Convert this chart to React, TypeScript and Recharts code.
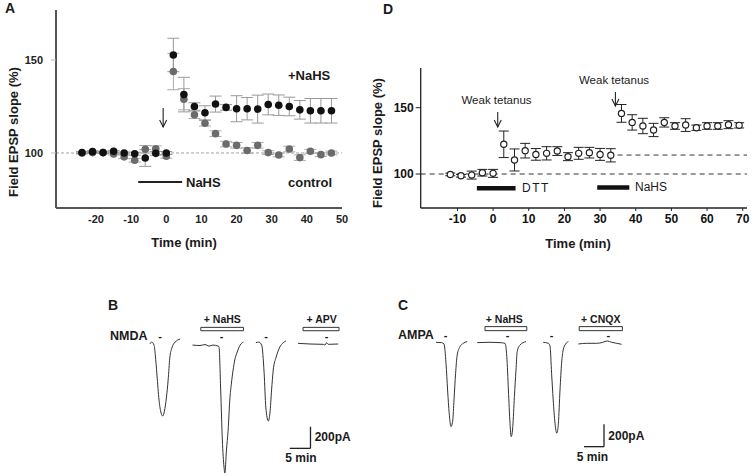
import { ComposedChart, Scatter, ErrorBar, XAxis, YAxis, ReferenceLine, ReferenceArea, LineChart, Line } from 'recharts'

const FONT = '"Liberation Sans", Arial, Helvetica, sans-serif'

// panel A: field EPSP slope (%), +NaHS vs control
const timeA = [-24, -21, -18, -15, -12, -9, -6, -3, 0, 2, 5, 8, 11, 14, 17, 20, 23, 26, 29, 32, 35, 38, 41, 44, 47]
const nahsA = [100.2, 100.7, 100.2, 100.9, 100, 99.6, 97.3, 99.8, 100, 152.7, 131.4, 125, 121.6, 126.3, 124.5, 123.8, 123.8, 123.6, 126.1, 125.7, 125, 123.2, 122.7, 122.7, 122.7]
const nahsErrA = [0.5, 0.5, 0.5, 0.5, 0.5, 0.8, 4.5, 1, 0.8, 9, 9.3, 2, 3.8, 4.3, 1.5, 7, 6, 7.5, 5.6, 5.5, 5, 5, 6.6, 6.6, 6.6]
const controlA = [100, 100.2, 100.2, 99.5, 97.9, 96.1, 102, 102.3, 98.2, 143.8, 128.9, 120.5, 116, 110.4, 104.8, 104.1, 101.3, 104.1, 100.2, 98.9, 102.1, 97.5, 100.9, 99.1, 100]
const controlErrA = [0.5, 0.5, 0.5, 0.5, 1, 1, 2, 1.5, 1, 9.8, 5.7, 2, 1.5, 1.5, 1.5, 1.5, 1.5, 1.5, 1, 1, 1.5, 1.5, 1, 1, 1]
const ticksXA = [-20, -10, 0, 10, 20, 30, 40, 50]

// panel D: DTT then NaHS, weak tetanus
const timeD = [-12, -9, -6, -3, 0, 3, 6, 9, 12, 15, 18, 21, 24, 27, 30, 33, 36, 39, 42, 45, 48, 51, 54, 57, 60, 63, 66, 69]
const slopeD = [99.7, 98.7, 99.2, 101, 100.5, 122.4, 110.6, 117.6, 114.8, 115.6, 117.3, 113.1, 115.6, 116.1, 114.8, 114.1, 145.7, 138.9, 136.2, 133.2, 138.9, 136.2, 136.9, 134.9, 136.2, 136.2, 137.2, 136.7]
const errD = [1, 1, 3, 2.5, 3, 10, 8.3, 5.5, 4.4, 5, 3.3, 3, 4.5, 4, 4.5, 5, 6.7, 5.8, 5.8, 5, 3.5, 2.5, 4.8, 2, 2.5, 2.5, 3, 2]
const ticksXD = [-10, 0, 10, 20, 30, 40, 50, 60, 70]

// panel B: NMDA currents (t in min, i in pA)
const nmdaCtrl = [
  { t: 2.4, i: -9 }, { t: 2.8, i: 9 }, { t: 3.4, i: -19 }, { t: 3.7, i: -111 }, { t: 4.1, i: -296 },
  { t: 4.6, i: -528 }, { t: 5.1, i: -648 }, { t: 5.5, i: -676 }, { t: 5.9, i: -630 }, { t: 6.4, i: -500 },
  { t: 6.8, i: -343 }, { t: 7.2, i: -139 }, { t: 7.7, i: -46 }, { t: 8.5, i: 9 }, { t: 9.7, i: 37 },
]
const nmdaNahs = [
  { t: 12.7, i: -19 }, { t: 14.5, i: -23 }, { t: 15.7, i: -14 }, { t: 16.7, i: -28 }, { t: 17.6, i: -19 },
  { t: 18.9, i: -28 }, { t: 19.1, i: -37 }, { t: 19.5, i: -435 }, { t: 19.9, i: -898 }, { t: 20.3, i: -1148 },
  { t: 20.5, i: -1204 }, { t: 20.9, i: -991 }, { t: 21.3, i: -806 }, { t: 21.7, i: -528 }, { t: 22.1, i: -370 },
  { t: 22.5, i: -250 }, { t: 22.9, i: -157 }, { t: 23.5, i: -83 }, { t: 24.2, i: -19 }, { t: 25, i: 9 },
]
const nmdaWash = [
  { t: 28, i: 3 }, { t: 28.7, i: 9 }, { t: 29.4, i: -19 }, { t: 30, i: -278 }, { t: 30.4, i: -593 },
  { t: 31, i: -722 }, { t: 31.4, i: -648 }, { t: 31.8, i: -435 }, { t: 32.2, i: -250 }, { t: 32.9, i: -130 },
  { t: 33.8, i: -37 }, { t: 35.3, i: 19 },
]
const nmdaApv = [
  { t: 38.2, i: -3 }, { t: 41.1, i: -9 }, { t: 44.3, i: -12 }, { t: 44.7, i: -19 }, { t: 45.1, i: 3 },
  { t: 45.5, i: -12 }, { t: 47.9, i: -9 },
]

// panel C: AMPA currents
const ampaCtrl = [
  { t: 14, i: -3 }, { t: 15.4, i: -6 }, { t: 16, i: -18 }, { t: 16.5, i: -190 }, { t: 16.9, i: -429 },
  { t: 17.3, i: -637 }, { t: 17.75, i: -756 }, { t: 18.2, i: -697 }, { t: 18.5, i: -518 }, { t: 18.9, i: -280 },
  { t: 19.3, i: -116 }, { t: 20, i: -42 }, { t: 20.8, i: -12 }, { t: 21.8, i: 3 },
]
const ampaNahs = [
  { t: 24.3, i: -6 }, { t: 27.5, i: -3 }, { t: 30, i: -6 }, { t: 31.25, i: -12 }, { t: 31.7, i: -131 },
  { t: 32.1, i: -429 }, { t: 32.5, i: -726 }, { t: 32.8, i: -846 }, { t: 33.2, i: -756 }, { t: 33.6, i: -488 },
  { t: 34, i: -250 }, { t: 34.3, i: -87 }, { t: 35, i: -27 }, { t: 36.5, i: 3 },
]
const ampaWash = [
  { t: 40.8, i: -3 }, { t: 42.1, i: -12 }, { t: 42.5, i: -36 }, { t: 42.9, i: -280 }, { t: 43.3, i: -518 },
  { t: 43.75, i: -726 }, { t: 44.2, i: -815 }, { t: 44.6, i: -726 }, { t: 45, i: -429 }, { t: 45.4, i: -190 },
  { t: 45.8, i: -71 }, { t: 46.4, i: -18 }, { t: 47.1, i: 3 },
]
const ampaCnqx = [
  { t: 49.6, i: -18 }, { t: 51.7, i: -12 }, { t: 54.2, i: -12 }, { t: 55.7, i: -3 }, { t: 56.8, i: 9 },
  { t: 57.9, i: -3 }, { t: 59.2, i: -12 }, { t: 60.4, i: -21 },
]

const dataA1 = timeA.map((t, k) => ({ t, v: controlA[k], e: controlErrA[k] }))
const dataA2 = timeA.map((t, k) => ({ t, v: nahsA[k], e: nahsErrA[k] }))
const dataD = timeD.map((t, k) => ({ t, v: slopeD[k], e: errD[k] }))

const Arrow = (p: any) => {
  const x = p.x1
  const top = Math.min(p.y1, p.y2)
  const bot = Math.max(p.y1, p.y2)
  return (
    <g>
      <line x1={x} y1={top} x2={x} y2={bot} stroke="#222" strokeWidth={1.1} />
      <polyline points={`${x - 3.5},${bot - 7} ${x},${bot} ${x + 3.5},${bot - 7}`} fill="none" stroke="#222" strokeWidth={1.1} />
    </g>
  )
}

const T = ({ x, y, children, size = 12, bold = true, anchor = 'start', rotate = false, ls }: any) => (
  <text x={x} y={y} fontSize={size} fontWeight={bold ? 700 : 400} textAnchor={anchor} dominantBaseline="central"
    transform={rotate ? `rotate(-90 ${x} ${y})` : undefined} letterSpacing={ls} fill="#1a1a1a" fontFamily={FONT}>
    {children}
  </text>
)

const tickA = { fill: '#222', fontSize: 11, fontWeight: 700, fontFamily: FONT }
const tickD = { fill: '#111', fontSize: 12, fontWeight: 700, fontFamily: FONT }

function PanelA() {
  return (
    <ComposedChart width={360} height={260} margin={{ top: 10, right: 18, bottom: 22, left: 16 }}>
      <XAxis type="number" dataKey="t" domain={[-31.4, 50]} ticks={ticksXA} allowDataOverflow height={30}
        axisLine={{ stroke: '#555', strokeWidth: 2 }} tickLine={false} tickSize={4} tickMargin={3} tick={tickA} />
      <YAxis type="number" dataKey="v" domain={[70.4, 176.9]} ticks={[100, 150]} allowDataOverflow width={40}
        axisLine={{ stroke: '#555', strokeWidth: 2 }} tickLine={{ stroke: '#bbb' }} tickSize={5} tickMargin={8} tick={tickA} />
      <ReferenceLine y={100} stroke="#888" strokeWidth={0.8} strokeDasharray="3 2" />
      <ReferenceLine segment={[{ x: -8, y: 84.4 }, { x: 4.5, y: 84.4 }]} stroke="#222" strokeWidth={2} />
      <ReferenceLine segment={[{ x: -0.9, y: 124.2 }, { x: -0.9, y: 114 }]} shape={Arrow} />
      <Scatter data={dataA1} dataKey="v" isAnimationActive={false}
        shape={(p: any) => <circle cx={p.cx} cy={p.cy} r={3.8} fill="#6b6b6b" />}>
        <ErrorBar dataKey="e" direction="y" width={6} stroke="#aaa" strokeWidth={1} />
      </Scatter>
      <Scatter data={dataA2} dataKey="v" isAnimationActive={false}
        shape={(p: any) => <circle cx={p.cx} cy={p.cy} r={3.8} fill="#111" />}>
        <ErrorBar dataKey="e" direction="y" width={6} stroke="#999" strokeWidth={1} />
      </Scatter>
    </ComposedChart>
  )
}

function PanelD() {
  return (
    <ComposedChart width={373} height={260} margin={{ top: 68, right: 6, bottom: 22, left: 5.7 }}>
      <XAxis type="number" dataKey="t" domain={[-20.3, 71.2]} ticks={ticksXD} allowDataOverflow height={30}
        axisLine={{ stroke: '#222', strokeWidth: 1.3 }} tickLine={{ stroke: '#222' }} tickSize={3} tickMargin={3} tick={tickD} />
      <YAxis type="number" dataKey="v" domain={[74.4, 179.9]} ticks={[100, 150]} allowDataOverflow width={35}
        axisLine={{ stroke: '#222', strokeWidth: 1.3 }} tickLine={{ stroke: '#222' }} tickSize={5} tickMargin={2} tick={tickD} />
      <ReferenceLine y={100} stroke="#333" strokeWidth={1} strokeDasharray="5 4" />
      <ReferenceLine segment={[{ x: 34.9, y: 114.3 }, { x: 71.2, y: 114.3 }]} stroke="#333" strokeWidth={1} strokeDasharray="5 4" />
      <ReferenceLine segment={[{ x: -4.55, y: 89.2 }, { x: 6.3, y: 89.2 }]} stroke="#111" strokeWidth={4.5} />
      <ReferenceLine segment={[{ x: 29.2, y: 89.8 }, { x: 38.2, y: 89.8 }]} stroke="#111" strokeWidth={4.5} />
      <ReferenceLine segment={[{ x: 1.3, y: 146.8 }, { x: 1.3, y: 135.4 }]} shape={Arrow} />
      <ReferenceLine segment={[{ x: 34.3, y: 161.8 }, { x: 34.3, y: 151.3 }]} shape={Arrow} />
      <Scatter data={dataD} dataKey="v" isAnimationActive={false}
        shape={(p: any) => <circle cx={p.cx} cy={p.cy} r={3.1} fill="#fff" stroke="#222" strokeWidth={1.2} />}>
        <ErrorBar dataKey="e" direction="y" width={5} stroke="#222" strokeWidth={1} />
      </Scatter>
    </ComposedChart>
  )
}

function Traces({ width, xDomain, yDomain, traces, boxes, bar }: any) {
  return (
    <LineChart width={width} height={186} margin={{ top: 0, right: 0, bottom: 0, left: 0 }}>
      <XAxis type="number" dataKey="t" domain={xDomain} allowDataOverflow hide />
      <YAxis type="number" dataKey="i" domain={yDomain} allowDataOverflow hide />
      {boxes.map((b: number[], k: number) => (
        <ReferenceArea key={k} x1={b[0]} x2={b[1]} y1={b[2]} y2={b[3]} fill="#fff" fillOpacity={1} stroke="#333" strokeWidth={1} />
      ))}
      {traces.map((d: any[], k: number) => (
        <Line key={k} data={d} dataKey="i" type="monotone" stroke="#333" strokeWidth={1} dot={false} isAnimationActive={false} />
      ))}
      <ReferenceLine segment={[{ x: bar.t, y: bar.i }, { x: bar.t, y: bar.i - 200 }]} stroke="#222" strokeWidth={1.3} />
      <ReferenceLine segment={[{ x: bar.t - 5, y: bar.i - 200 }, { x: bar.t, y: bar.i - 200 }]} stroke="#222" strokeWidth={1.3} />
    </LineChart>
  )
}

export default function App() {
  return (
    <div style={{ position: 'absolute', left: 0, top: 0, width: 753, height: 476, background: '#fff', overflow: 'hidden' }}>
      <div style={{ position: 'absolute', left: 0, top: 0 }}><PanelA /></div>
      <div style={{ position: 'absolute', left: 380, top: 0 }}><PanelD /></div>
      <div style={{ position: 'absolute', left: 140, top: 290 }}>
        <Traces width={240} xDomain={[0, 58]} yDomain={[-1231, 491]}
          traces={[nmdaCtrl, nmdaNahs, nmdaWash, nmdaApv]}
          boxes={[[14.7, 25, 114, 145], [39.4, 48.1, 114, 145]]}
          bar={{ t: 41.2, i: -775 }} />
      </div>
      <div style={{ position: 'absolute', left: 380, top: 290 }}>
        <Traces width={260} xDomain={[0, 65]} yDomain={[-1197, 464]}
          traces={[ampaCtrl, ampaNahs, ampaWash, ampaCnqx]}
          boxes={[[26.25, 36.7, 101, 137], [49.8, 60.6, 101, 137]]}
          bar={{ t: 56, i: -735 }} />
      </div>
      <svg width={753} height={476} style={{ position: 'absolute', left: 0, top: 0, pointerEvents: 'none' }}>
        <T x={5} y={8} size={14}>A</T>
        <T x={13} y={132} size={13} anchor="middle" rotate>Field EPSP slope (%)</T>
        <T x={184} y={242} size={13} anchor="middle">Time (min)</T>
        <T x={288} y={75} size={13}>+NaHS</T>
        <T x={186} y={182} size={13}>NaHS</T>
        <T x={288} y={182} size={13}>control</T>

        <T x={383} y={9} size={14}>D</T>
        <T x={377} y={143} size={13} anchor="middle" rotate>Field EPSP slope (%)</T>
        <T x={578} y={243} size={13} anchor="middle">Time  (min)</T>
        <T x={496.5} y={100} size={11.5} bold={false} anchor="middle">Weak tetanus</T>
        <T x={614} y={80} size={11.5} bold={false} anchor="middle">Weak tetanus</T>
        <T x={522} y={188} size={12} bold={false} ls={1.5}>DTT</T>
        <T x={635} y={187} size={12} bold={false}>NaHS</T>

        <T x={108} y={305} size={14}>B</T>
        <T x={110} y={336} size={12.5}>NMDA</T>
        <T x={222.3} y={319.3} size={10.5} anchor="middle">+ NaHS</T>
        <T x={321.7} y={319.3} size={10.5} anchor="middle">+ APV</T>
        {[160, 221.7, 266, 326.7].map((x) => <T key={x} x={x} y={336} size={11} anchor="middle">-</T>)}
        <T x={314.7} y={436.7} size={12}>200pA</T>
        <T x={301} y={458.3} size={12} anchor="middle">5 min</T>

        <T x={398} y={305} size={14}>C</T>
        <T x={398} y={335} size={12.5}>AMPA</T>
        <T x={504.3} y={319.3} size={10.5} anchor="middle">+ NaHS</T>
        <T x={600.7} y={319.3} size={10.5} anchor="middle">+ CNQX</T>
        {[445.7, 507.7, 551.7, 608.3].map((x) => <T key={x} x={x} y={335} size={11} anchor="middle">-</T>)}
        <T x={608.3} y={435.7} size={12}>200pA</T>
        <T x={592.5} y={456.7} size={12} anchor="middle">5 min</T>
      </svg>
    </div>
  )
}
